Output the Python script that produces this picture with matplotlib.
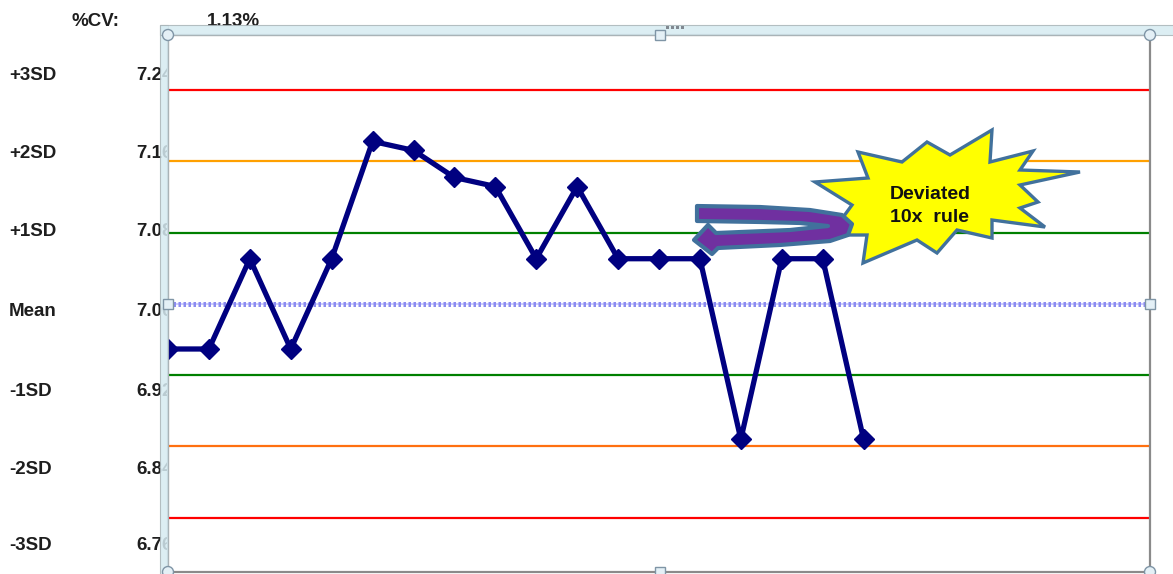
import matplotlib
matplotlib.use("Agg")
import matplotlib.pyplot as plt
from matplotlib.patches import Polygon, Rectangle, Circle
from matplotlib.transforms import Affine2D

# Control data for the run
mean = 7.00
sd = 0.079
cv_text = "1.13%"
values = [6.95, 6.95, 7.05, 6.95, 7.05, 7.18, 7.17, 7.14, 7.13, 7.05,
          7.13, 7.05, 7.05, 7.05, 6.85, 7.05, 7.05, 6.85]
n_slots = 24

sd_names = ["+3SD", "+2SD", "+1SD", "Mean", "-1SD", "-2SD", "-3SD"]
sd_steps = [3, 2, 1, 0, -1, -2, -3]
limit_colors = {3: "#ff0000", 2: "#ffa000", 1: "#008000",
                -1: "#008000", -2: "#ff7010", -3: "#ff0000"}

W, H = 1173, 574
fig = plt.figure(figsize=(W / 100, H / 100), dpi=100)
fig.patch.set_facecolor("white")

# pixel coordinates measured from the top-left corner of the figure
px = Affine2D().scale(1 / W, -1 / H).translate(0, 1) + fig.transFigure

ax = fig.add_axes([168 / W, 1 - 572 / H, (1150 - 168) / W, (572 - 35) / H])
ax.set_facecolor("white")

# control limits
for k in sd_steps:
    if k == 0:
        ax.axhline(mean, color="#c4c4ff", lw=1.2, zorder=1)
        ax.axhline(mean, color="#8c8cf0", lw=3.6, ls=(0, (0.5, 0.5)), zorder=1)
    else:
        ax.axhline(mean + k * sd, color=limit_colors[k], lw=1.6, zorder=1)

# measurements
ax.plot(range(len(values)), values, color="#000080", lw=3.8,
        marker="D", ms=10, mew=1, zorder=3)

ax.set_xlim(0, n_slots)
ax.set_ylim(mean - 3.76 * sd, mean + 3.77 * sd)
ax.set_xticks([])
ax.set_yticks([])
for s in ax.spines.values():
    s.set_color("#8a8a8a")
    s.set_linewidth(1.6)

# side table with the SD levels
font = dict(family="Liberation Sans", fontweight="bold", fontsize=13.5,
            color="#1e1e1e", transform=px, zorder=-1)
fig.text(72, 22, "%CV:", ha="left", va="center", **font)
fig.text(207, 22, cv_text, ha="left", va="center", **font)
row_y = [75, 153, 232, 312, 391, 470, 546]
for name, k, y in zip(sd_names, sd_steps, row_y):
    fig.text(9, y, name, ha="left", va="center", **font)
    fig.text(136, y, f"{mean + k * sd:.2f}", ha="left", va="center", **font)

# chart selection frame
band_kw = dict(transform=px, facecolor="#d6ebf2", edgecolor="#a9b4b8",
               lw=0.8, alpha=0.85, zorder=0.5)
fig.add_artist(Rectangle((160, 25), 8, 560, **band_kw))
fig.add_artist(Rectangle((160, 25), 1020, 10, **band_kw))

handle_kw = dict(transform=px, facecolor="#e4f0f6", edgecolor="#7f95a6",
                 lw=1.0, zorder=6)
for cx, cy in [(168, 35), (1150, 35), (1150, 572), (168, 572)]:
    fig.add_artist(Circle((cx, cy), 5.5, **handle_kw))
for cx, cy in [(660, 35), (660, 572), (168, 304), (1150, 304)]:
    fig.add_artist(Rectangle((cx - 5, cy - 5), 10, 10, **handle_kw))
for dx in range(4):
    fig.add_artist(Rectangle((666 + 5 * dx, 26), 3, 3, transform=px,
                             facecolor="#808890", edgecolor="none", zorder=6))

# explosion callout
star = [(815, 182), (868, 178), (858, 152), (902, 162), (927, 142),
        (950, 155), (992, 130), (990, 162), (1033, 151), (1020, 170),
        (1080, 172), (1020, 185), (1038, 202), (1020, 208), (1045, 227),
        (992, 220), (992, 238), (957, 230), (937, 253), (917, 240),
        (863, 263), (867, 235), (830, 235), (852, 205)]
fig.add_artist(Polygon(star, closed=True, transform=px, facecolor="#ffff00",
                       edgecolor="#41719c", lw=2.4, joinstyle="miter", zorder=4))
fig.text(930, 206, "Deviated\n10x  rule", transform=px, ha="center",
         va="center", family="Liberation Sans", fontweight="bold",
         fontsize=14, linespacing=1.4, color="#111111", zorder=5)

# U-turn arrow pointing back at the run
arrow = [(697, 206), (760, 207), (810, 210), (842, 215), (852, 224),
         (848, 235), (830, 241), (780, 245), (718, 248), (712, 254),
         (694, 240), (708, 225), (716, 233), (790, 230), (828, 226),
         (800, 223), (760, 222), (697, 221)]
fig.add_artist(Polygon(arrow, closed=True, transform=px, facecolor="#7030a0",
                       edgecolor="#41719c", lw=3.0, joinstyle="round", zorder=5))

fig.savefig("out.png", dpi=100)
